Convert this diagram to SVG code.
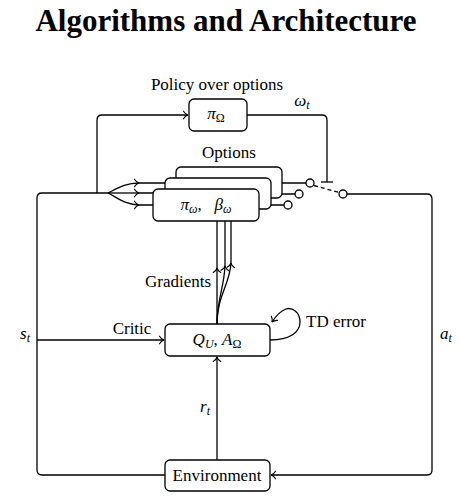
<svg xmlns="http://www.w3.org/2000/svg" width="469" height="503" viewBox="0 0 469 503">
<style>
text{font-family:"Liberation Serif","DejaVu Serif",serif;fill:#000}
.lbl{font-size:17px}
.m{font-style:italic}
.sub{font-size:12px}
.node rect{fill:#fff;stroke:#000;stroke-width:1.3}
.c{fill:none;stroke:#000;stroke-width:1.3}
.arr{marker-end:url(#ah)}
.sw{fill:#fff;stroke:#000;stroke-width:1.3}
</style>
<defs>
<marker id="ah" markerUnits="userSpaceOnUse" markerWidth="12" markerHeight="12" viewBox="-6 -6 12 12" refX="0" refY="0" orient="auto">
<path d="M-4.5,-3.8 C-3.2,-1.6 -1.2,-0.3 0,0 C-1.2,0.3 -3.2,1.6 -4.5,3.8" fill="none" stroke="#000" stroke-width="1.1" stroke-linecap="round"/>
</marker>
</defs>
<text x="226" y="31" text-anchor="middle" font-size="31" font-weight="bold">Algorithms and Architecture</text>
<g id="connectors">
<path class="c" d="M165,475 L42,475 Q37,475 37,470 L37,198 Q37,193 42,193 L108,193"/>
<path class="c arr" d="M97,193 L97,120 Q97,115 102,115 L188,115"/>
<path class="c" d="M247,115 L322,115 Q327,115 327,120 L327,182"/>
<path class="c" d="M321,182 L333,182"/>
<path class="c arr" d="M108,193 C118,188 126,183 139,183"/>
<path class="c arr" d="M108,193 L139,193"/>
<path class="c arr" d="M108,193 C118,198 126,205 139,205"/>
<path class="c" d="M139,183 L176,183 M139,193 L165,193 M139,205 L153,205"/>
<path class="c" d="M282,183 L306,183 M271,194 L295,194 M259,205 L284,205"/>
<path class="c" d="M314,185.5 L339,192.5" stroke-dasharray="4,3"/>
<path class="c arr" d="M347,194 L427,194 Q432,194 432,199 L432,470 Q432,475 427,475 L271,475"/>
<path class="c arr" d="M37,340 L164,340"/>
<path class="c arr" d="M217,460 L217,357"/>
<path class="c arr" d="M217,324 L217,268"/>
<path class="c" d="M217,268 L217,221"/>
<path class="c arr" d="M217,324 C217,300 224,288 225,266"/>
<path class="c" d="M225,266 L225,221"/>
<path class="c arr" d="M217,324 C217,296 230,284 231,263"/>
<path class="c" d="M231,263 L231,221"/>
<path class="c arr" d="M270,340 C290,340 300,332 300,322 C300,312 292,307 286,309 C280,311 276,316 272,322"/>
</g>
<circle class="sw" cx="310" cy="183" r="4"/>
<circle class="sw" cx="299" cy="194" r="4"/>
<circle class="sw" cx="288" cy="205" r="4"/>
<circle class="sw" cx="343" cy="194" r="4"/>
<g id="pi-omega" class="node">
<rect x="189" y="99" width="58" height="32" rx="5"/>
<text x="216" y="119" class="lbl m" text-anchor="middle">π<tspan class="sub" dy="3" font-style="normal">Ω</tspan></text>
</g>
<g id="options" class="node">
<rect x="176" y="167" width="106" height="31" rx="5"/>
<rect x="165" y="178" width="106" height="31" rx="5"/>
<rect x="153" y="189" width="106" height="32" rx="5"/>
<text x="206" y="210" class="lbl m" text-anchor="middle" xml:space="preserve">π<tspan class="sub" dy="3">ω</tspan><tspan dy="-3" font-style="normal">,   </tspan>β<tspan class="sub" dy="3">ω</tspan></text>
</g>
<g id="critic" class="node">
<rect x="165" y="324" width="105" height="32" rx="5"/>
<text x="217" y="345" class="lbl m" text-anchor="middle" xml:space="preserve">Q<tspan class="sub" dy="3">U</tspan><tspan dy="-3" font-style="normal">, </tspan>A<tspan class="sub" dy="3" font-style="normal">Ω</tspan></text>
</g>
<g id="environment" class="node">
<rect x="165" y="460" width="105" height="31" rx="5"/>
<text x="217" y="481" class="lbl" text-anchor="middle">Environment</text>
</g>
<text x="217" y="90" class="lbl" text-anchor="middle">Policy over options</text>
<text x="302" y="106" class="lbl m" text-anchor="middle">ω<tspan class="sub" dy="3">t</tspan></text>
<text x="229" y="158" class="lbl" text-anchor="middle">Options</text>
<text x="178" y="287" class="lbl" text-anchor="middle">Gradients</text>
<text x="132" y="334" class="lbl" text-anchor="middle">Critic</text>
<text x="336" y="327" class="lbl" text-anchor="middle">TD error</text>
<text x="25" y="339" class="lbl m" text-anchor="middle">s<tspan class="sub" dy="3">t</tspan></text>
<text x="446" y="339" class="lbl m" text-anchor="middle">a<tspan class="sub" dy="3">t</tspan></text>
<text x="205" y="412" class="lbl m" text-anchor="middle">r<tspan class="sub" dy="3">t</tspan></text>
</svg>
